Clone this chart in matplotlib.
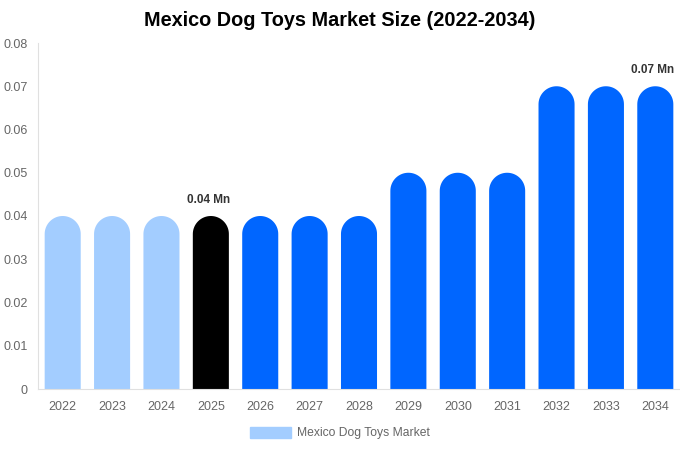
import numpy as np
import matplotlib.pyplot as plt
from matplotlib.patches import Polygon, Patch

plt.rcParams['font.family'] = ['Liberation Sans', 'DejaVu Sans']

# Data
years = ['2022', '2023', '2024', '2025', '2026', '2027', '2028',
         '2029', '2030', '2031', '2032', '2033', '2034']
values = [0.04, 0.04, 0.04, 0.04, 0.04, 0.04, 0.04,
          0.05, 0.05, 0.05, 0.07, 0.07, 0.07]
bar_colors = ['#a3cdff'] * 3 + ['#000000'] + ['#0066ff'] * 9
labels = {3: '0.04 Mn', 12: '0.07 Mn'}

fig = plt.figure(figsize=(6.8, 4.5), dpi=100)
ax = fig.add_axes([38 / 680, 61 / 450, 642 / 680, 346 / 450])

ax.set_xlim(-0.5, len(years) - 0.5)
ax.set_ylim(0, 0.08)

bw = 0.73
# radius of the rounded top in data units (half bar width in pixels)
px_per_y = 346 / 0.08
px_per_x = 642 / len(years)
ry = (bw / 2 * px_per_x) / px_per_y
theta = np.linspace(0, np.pi, 40)

for i, (v, c) in enumerate(zip(values, bar_colors)):
    # rounded-top bar: straight sides, half-ellipse cap
    arc_x = i + bw / 2 * np.cos(theta)
    arc_y = (v - ry) + ry * np.sin(theta)
    xs = np.concatenate([[i + bw / 2], arc_x, [i - bw / 2]])
    ys = np.concatenate([[0], arc_y, [0]])
    ax.add_patch(Polygon(np.column_stack([xs, ys]), closed=True,
                         facecolor=c, edgecolor='none'))
    if i in labels:
        ax.text(i - 0.05, v + 16 / px_per_y, labels[i], ha='center', va='center',
                fontsize=8.5, fontweight='bold', color='#333333')

ax.set_xticks(range(len(years)))
ax.set_xticklabels(years)
ax.set_yticks([0, 0.01, 0.02, 0.03, 0.04, 0.05, 0.06, 0.07, 0.08])
ax.set_yticklabels(['0', '0.01', '0.02', '0.03', '0.04', '0.05', '0.06', '0.07', '0.08'])
ax.tick_params(axis='both', length=0, labelsize=9, colors='#666666')
ax.tick_params(axis='x', pad=9)
ax.tick_params(axis='y', pad=7.5)

for s in ['top', 'right']:
    ax.spines[s].set_visible(False)
ax.spines['left'].set_color('#e0e0e0')
ax.spines['bottom'].set_color('#e0e0e0')

fig.suptitle('Mexico Dog Toys Market Size (2022-2034)', y=0.975,
             fontsize=14.3, fontweight='bold')

handle = Patch(color='#a3cdff', label='Mexico Dog Toys Market')
fig.legend(handles=[handle], loc='center', bbox_to_anchor=(0.5, 1 - 433 / 450),
           frameon=False, fontsize=8.7, labelcolor='#666666',
           handlelength=3.4, handleheight=1.0, handletextpad=0.5)

fig.savefig('out.png', dpi=100)
